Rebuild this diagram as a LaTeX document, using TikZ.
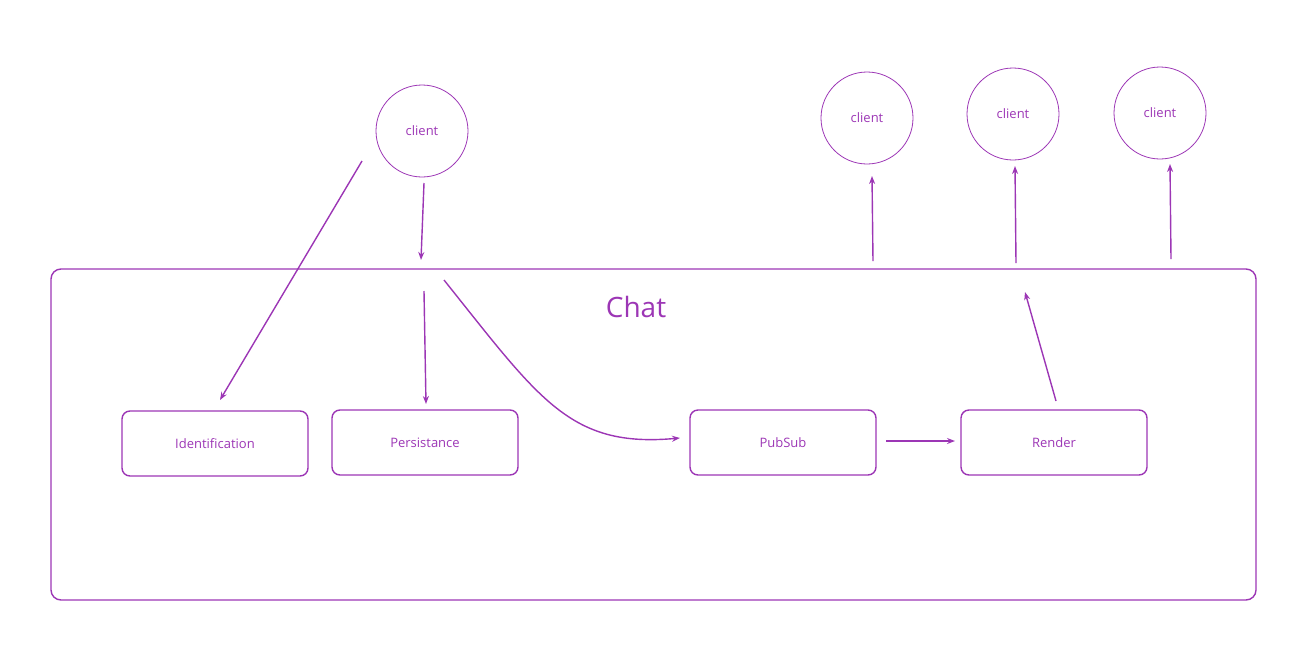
\documentclass[tikz,border=0pt]{standalone}
\usepackage{fontspec}
\setmainfont{Open Sans}
\usetikzlibrary{arrows.meta}
\definecolor{pur}{HTML}{9C36B5}
\tikzset{
  frame/.style={draw=pur, line width=1.4pt, rounded corners=10pt},
  comp/.style={draw=pur, line width=1.4pt, rounded corners=8pt, minimum width=186pt, minimum height=65pt, text=pur, font=\fontsize{13}{15}\selectfont, inner sep=0pt},
  client/.style={circle, draw=pur, line width=0.8pt, minimum size=92pt, text=pur, font=\fontsize{13}{15}\selectfont, inner sep=0pt},
  conn/.style={draw=pur, line width=1.4pt, -{Stealth[length=8pt,width=6pt]}},
}
\begin{document}
\begin{tikzpicture}[x=1pt,y=-1pt]
\useasboundingbox (0,0) rectangle (1309,662);
\draw[frame] (51,269) rectangle (1256,600);
\node[text=pur, font=\fontsize{28}{32}\selectfont] (chat) at (636,307) {Chat};
\node[comp] (ident) at (215,443.5) {Identification};
\node[comp] (pers) at (425,442.5) {Persistance};
\node[comp] (pubsub) at (783,442.5) {PubSub};
\node[comp] (render) at (1054,442.5) {Render};
\node[client] (c1) at (422,131) {client};
\node[client] (c2) at (867,118) {client};
\node[client] (c3) at (1013,114) {client};
\node[client] (c4) at (1160,113) {client};
% free ends
\coordinate (a1s) at (362,161);
\coordinate (a1e) at (220,400);
\coordinate (a2s) at (424,183);
\coordinate (a2e) at (421,260);
\coordinate (a3s) at (424,291);
\coordinate (a3e) at (426,404);
\coordinate (a4s) at (444,280);
\coordinate (a4e) at (680,438);
\coordinate (a5s) at (886,441);
\coordinate (a5e) at (955,441);
\coordinate (a6s) at (1056,401);
\coordinate (a6e) at (1025,292);
\coordinate (a7s) at (873,261);
\coordinate (a7e) at (872,176);
\coordinate (a8s) at (1016,263);
\coordinate (a8e) at (1015,166);
\coordinate (a9s) at (1171,259);
\coordinate (a9e) at (1170,164);
\draw[conn] (a1s) -- (a1e);
\draw[conn] (a2s) -- (a2e);
\draw[conn] (a3s) -- (a3e);
\draw[conn] (a4s) .. controls (540,400) and (570,448) .. (a4e);
\draw[conn] (a5s) -- (a5e);
\draw[conn] (a6s) -- (a6e);
\draw[conn] (a7s) -- (a7e);
\draw[conn] (a8s) -- (a8e);
\draw[conn] (a9s) -- (a9e);
\end{tikzpicture}
\end{document}
